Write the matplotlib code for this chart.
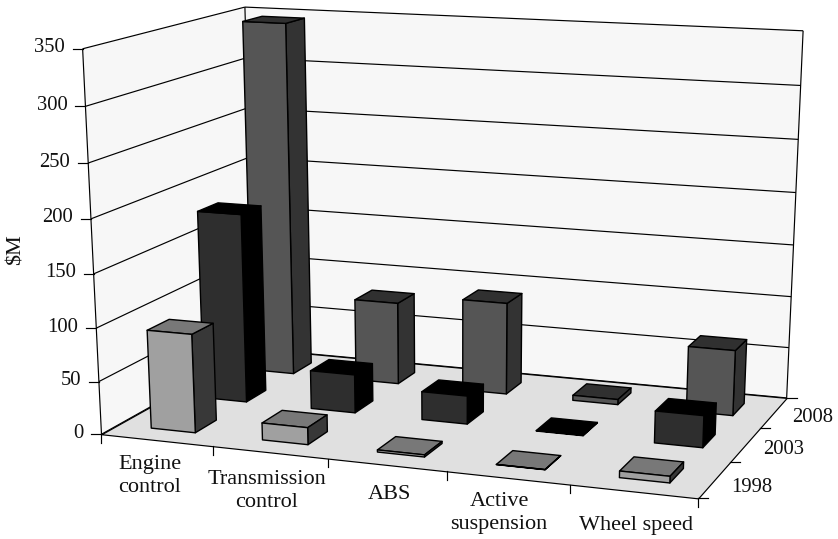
import numpy as np
import matplotlib
matplotlib.use("Agg")
import matplotlib.pyplot as plt
from matplotlib.lines import Line2D
from matplotlib.transforms import Affine2D
from mpl_toolkits.mplot3d.art3d import Poly3DCollection, Line3DCollection

plt.rcParams['font.family'] = ['Liberation Serif', 'DejaVu Serif']

W, H = 838, 539

# data, $M
categories = ["Engine\ncontrol", "Transmission\ncontrol", "ABS", "Active\nsuspension", "Wheel speed"]
series_labels = ["1998", "2003", "2008"]
values_1998 = [93, 16, 2, 0.2, 6]
values_2003 = [182, 37, 27, 0.5, 30]
values_2008 = [346, 81, 90, 5, 63]
z_ticks = [0, 50, 100, 150, 200, 250, 300, 350]

# front / side / top colour of each series
front_colors = ["#a0a0a0", "#2e2e2e", "#555555"]
side_colors = ["#383838", "#000000", "#333333"]
top_colors = ["#787878", "#000000", "#303030"]

# where the plot box sits in the picture: (x, y, z) -> pixel, used to fit the camera
anchors = [
    ((0, 0, 0), (101.7, 433.7)), ((0, 0, 350), (82.3, 49.0)),
    ((0, 3, 350), (245.3, 6.7)), ((5, 3, 350), (803.0, 31.0)),
    ((5, 3, 0), (786.7, 397.7)), ((5, 0, 0), (698.7, 499.0)),
    ((0, 3, 0), (254.0, 349.5)), ((5, 1, 0), (730.0, 461.7)),
    ((5, 2, 0), (760.0, 427.7)), ((1, 0, 0), (213.0, 445.9)),
    ((2, 0, 0), (328.0, 458.5)), ((3, 0, 0), (447.0, 471.5)),
    ((4, 0, 0), (570.0, 485.0)),
]


def fit_camera(pairs):
    # plain DLT, gives a 3x4 projective camera
    rows = []
    for (x, y, z), (u, v) in pairs:
        rows.append([x, y, z / 100, 1, 0, 0, 0, 0, -u * x, -u * y, -u * z / 100, -u])
        rows.append([0, 0, 0, 0, x, y, z / 100, 1, -v * x, -v * y, -v * z / 100, -v])
    p = np.linalg.svd(np.array(rows))[2][-1].reshape(3, 4)
    p[:, 2] /= 100
    if p[2] @ np.array([0, 0, 0, 1]) < 0:
        p = -p
    return p


cam = fit_camera(anchors)
M = np.vstack([cam[0], cam[1], [0, 0, 0, -1], cam[2]])


def to_px(x, y, z):
    u = cam @ np.array([x, y, z, 1.0])
    return u[0] / u[2], u[1] / u[2]


fig = plt.figure(figsize=(W / 100, H / 100), dpi=100)
ax = fig.add_axes([0, 0, 1, 1], projection='3d')
ax.apply_aspect = lambda position=None: None
ax.get_proj = lambda: M
ax.viewLim.intervalx = (0, W)
ax.viewLim.intervaly = (H, 0)
ax.computed_zorder = False
ax.set_axis_off()
ax.patch.set_visible(False)

px = Affine2D().scale(1 / W, -1 / H).translate(0, 1) + fig.transFigure


def seg(x0, y0, x1, y1):
    fig.add_artist(Line2D([x0, x1], [y0, y1], transform=px, color='black', lw=0.85))


def label(x, y, s, size=16.0, **kw):
    fig.text(x, y, s, transform=px, fontsize=size, color='#111111', **kw)


nx, ny, zmax = len(categories), len(series_labels), z_ticks[-1]

# walls and floor
wall_l = [(0, 0, 0), (0, ny, 0), (0, ny, zmax), (0, 0, zmax)]
wall_b = [(0, ny, 0), (nx, ny, 0), (nx, ny, zmax), (0, ny, zmax)]
floor = [(0, 0, 0), (nx, 0, 0), (nx, ny, 0), (0, ny, 0)]
ax.add_collection3d(Poly3DCollection([wall_l, wall_b], facecolors='#f7f7f7', edgecolors='none', zorder=1))
ax.add_collection3d(Poly3DCollection([floor], facecolors='#e0e0e0', edgecolors='black', linewidths=0.85, zorder=2))

grid = []
for v in z_ticks:
    grid.append([(0, 0, v), (0, ny, v)])
    grid.append([(0, ny, v), (nx, ny, v)])
grid.append([(0, 0, 0), (0, 0, zmax)])
grid.append([(0, ny, 0), (0, ny, zmax)])
grid.append([(nx, ny, 0), (nx, ny, zmax)])
ax.add_collection3d(Line3DCollection(grid, colors='black', linewidths=0.85, zorder=1.5))


def add_bar(i, j, h, zo):
    x0, x1 = i + 0.3, i + 0.7
    y0, y1 = j + 0.3, j + 0.7
    front = [(x0, y0, 0), (x1, y0, 0), (x1, y0, h), (x0, y0, h)]
    side = [(x1, y0, 0), (x1, y1, 0), (x1, y1, h), (x1, y0, h)]
    top = [(x0, y0, h), (x1, y0, h), (x1, y1, h), (x0, y1, h)]
    ax.add_collection3d(Poly3DCollection(
        [front, side, top],
        facecolors=[front_colors[j], side_colors[j], top_colors[j]],
        edgecolors='black', linewidths=1.0, zorder=zo))


all_values = [values_1998, values_2003, values_2008]
zo = 3
for j in range(ny - 1, -1, -1):
    for i in range(nx):
        add_bar(i, j, all_values[j][i], zo)
        zo += 1

# ticks
for v in z_ticks:
    u0, v0 = to_px(0, 0, v)
    seg(u0 - 10, v0, u0, v0)
    label(u0 - 18, v0 - 1, str(v), size=14.9, ha='right', va='center')

for i in range(nx + 1):
    u0, v0 = to_px(i, 0, 0)
    seg(u0, v0, u0, v0 + 8.5)

for j in range(ny + 1):
    u0, v0 = to_px(nx, j, 0)
    seg(u0, v0, u0 + 10, v0)

# category labels, hand placed like the original
cat_pos = [(150, 455), (267, 470), (389, 485), (499, 492), (636, 516)]
for (cx, cy), name in zip(cat_pos, categories):
    label(cx, cy, name, ha='center', va='top', multialignment='center', linespacing=1.32)

series_pos = [(731, 487), (763, 450), (792, 417.5)]
for (sx, sy), name in zip(series_pos, series_labels):
    label(sx, sy, name, size=14.9, ha='left', va='center')

label(16, 250, r"\$M", rotation=90, ha='center', va='center')

fig.savefig("out.png", dpi=100, facecolor='white')
